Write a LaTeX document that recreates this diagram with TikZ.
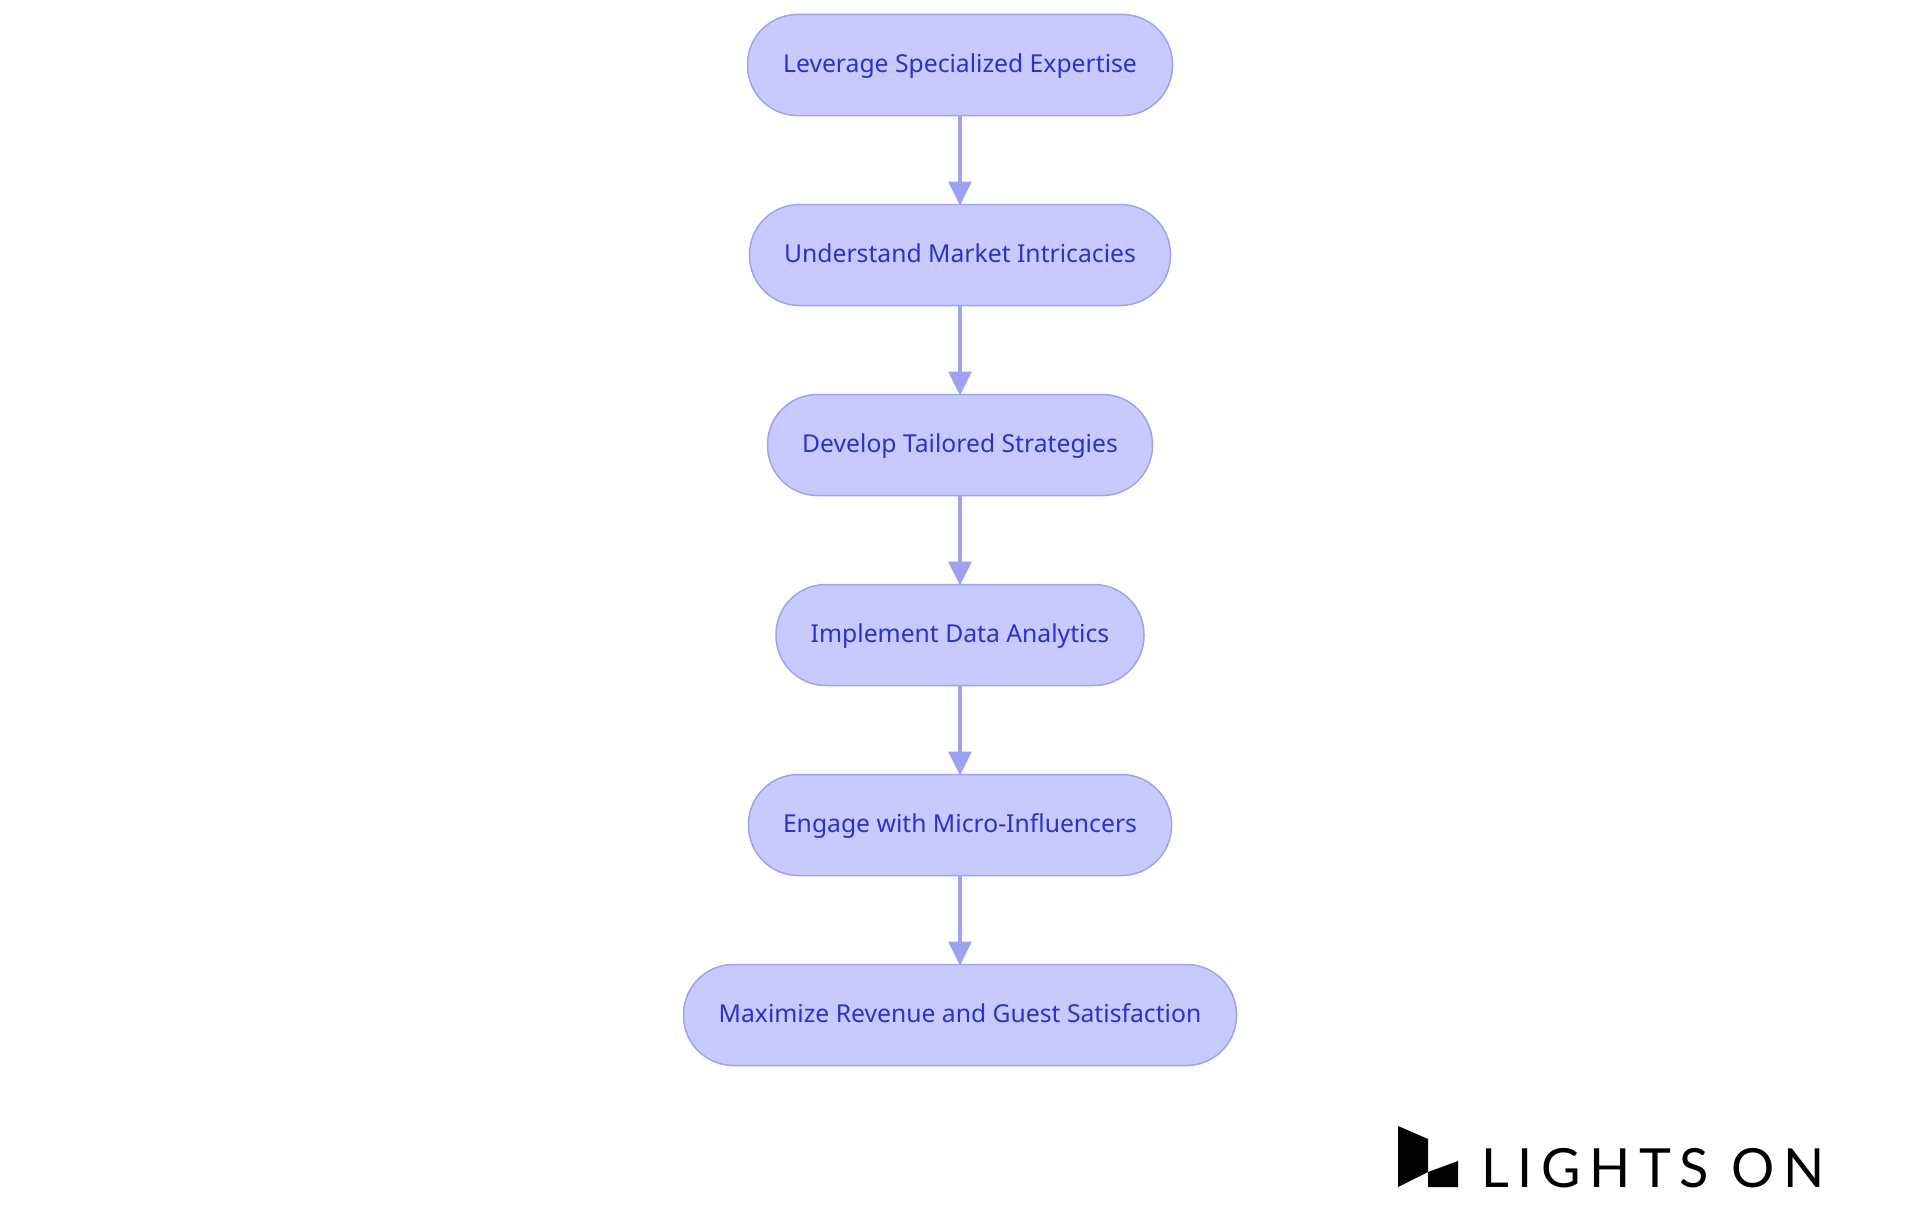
\documentclass[tikz,border=0pt]{standalone}
\usepackage{fontspec}
\usetikzlibrary{arrows.meta}
\setmainfont{Noto Sans}
\newfontfamily\logofont[LetterSpace=16]{Lato}
\definecolor{boxfill}{HTML}{C8C9FD}
\definecolor{boxline}{HTML}{9FA2F2}
\definecolor{boxtext}{HTML}{2C30CE}
\tikzset{
  x=1pt,y=-1pt,
  flowbox/.style={draw=boxline,fill=boxfill,line width=1.5pt,rounded corners=50pt,
    minimum height=101pt,inner sep=0pt,outer sep=0pt,text=boxtext,
    text height=19.4pt,text depth=4pt,
    font=\fontsize{24.7}{28}\selectfont},
  flowarrow/.style={draw=boxline,line width=3.5pt,
    -{Triangle[length=24pt,width=23pt,fill=boxline]},shorten >=-1pt}
}
\begin{document}
\begin{tikzpicture}
\useasboundingbox (0,0) rectangle (1920,1215);
\fill[white] (0,0) rectangle (1920,1215);
\node[flowbox,minimum width=425pt] (a) at (960,65) {Leverage Specialized Expertise};
\node[flowbox,minimum width=421pt] (b) at (960,255) {Understand Market Intricacies};
\node[flowbox,minimum width=385pt] (c) at (960,445) {Develop Tailored Strategies};
\node[flowbox,minimum width=368pt] (d) at (960,635) {Implement Data Analytics};
\node[flowbox,minimum width=423pt] (e) at (960,825) {Engage with Micro-Influencers};
\node[flowbox,minimum width=553pt] (f) at (960,1015) {Maximize Revenue and Guest Satisfaction};
\draw[flowarrow] (a) -- (b);
\draw[flowarrow] (b) -- (c);
\draw[flowarrow] (c) -- (d);
\draw[flowarrow] (d) -- (e);
\draw[flowarrow] (e) -- (f);
\fill[black] (1398,1126) -- (1428,1139) -- (1428,1172) -- (1398,1187) -- cycle;
\fill[black] (1428,1172) -- (1458,1161) -- (1458,1187) -- (1428,1187) -- cycle;
\node[anchor=base west,inner sep=0pt,text=black,font=\logofont\fontsize{54}{60}\selectfont] (logo) at (1481,1187) {LIGHTS ON};
\end{tikzpicture}
\end{document}
